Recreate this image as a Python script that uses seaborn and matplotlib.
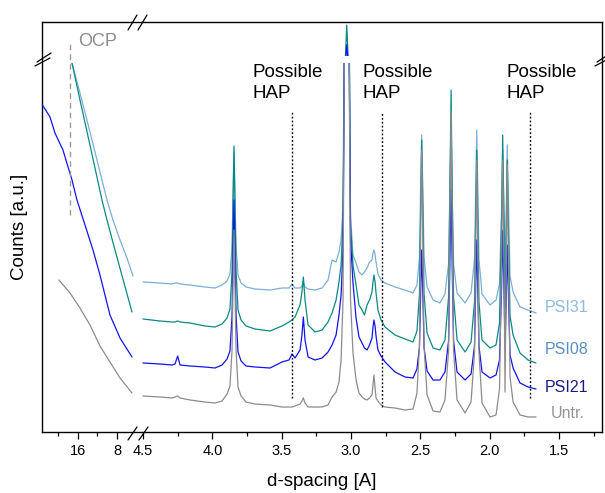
import numpy as np
import pandas as pd
import matplotlib
matplotlib.use("Agg")
import matplotlib.pyplot as plt
import seaborn as sns

# ---------------- data ----------------
samples = ["PSI31", "PSI08", "PSI21", "Untr."]
line_colors = ["#7BAED8", "#0A8A84", "#1212F2", "#8C8C8C"]
label_colors = ["#8DBAE2", "#5A8DC5", "#1A1A8C", "#959595"]

# left (large d-spacing) part: d-spacing / counts for each sample
left_d_psi31 = [17.23, 15.59, 13.54, 11.49, 10.05, 8.82, 7.38, 5.95, 4.72]
left_c_psi31 = [369, 339, 300, 260, 232, 212, 192, 174, 156]
left_d_psi08 = [17.23, 15.59, 13.54, 11.08, 10.05, 8.41, 6.56, 4.92]
left_c_psi08 = [369, 332, 287, 232, 212, 182, 149, 120]
left_d_psi21 = [23.28, 21.74, 20.72, 19.08, 17.23, 16.21, 14.56, 12.92, 11.49, 9.44, 7.38, 4.92]
left_c_psi21 = [327, 315, 299, 282, 252, 232, 207, 182, 157, 117, 94, 75]
left_d_untr = [19.90, 17.64, 15.59, 13.54, 11.49, 9.44, 7.38, 4.92]
left_c_untr = [152, 139, 124, 107, 86, 70, 54, 39]

# right (small d-spacing) part: common d grid
d_right = [4.500, 4.377, 4.291, 4.269, 4.250, 4.233, 4.161, 4.053, 3.981, 3.930,
           3.894, 3.873, 3.858, 3.851, 3.844, 3.837, 3.829, 3.815, 3.793, 3.757,
           3.693, 3.584, 3.498, 3.447, 3.426, 3.404, 3.368, 3.354, 3.344, 3.332,
           3.310, 3.260, 3.209, 3.166, 3.137, 3.108, 3.087, 3.072, 3.058, 3.047,
           3.039, 3.031, 3.023, 3.015, 3.004, 2.986, 2.964, 2.943, 2.921, 2.903,
           2.885, 2.867, 2.849, 2.842, 2.835, 2.827, 2.820, 2.806, 2.784, 2.755,
           2.683, 2.611, 2.553, 2.525, 2.507, 2.498, 2.491, 2.483, 2.474, 2.452,
           2.409, 2.359, 2.323, 2.297, 2.288, 2.279, 2.271, 2.261, 2.236, 2.178,
           2.135, 2.110, 2.101, 2.094, 2.087, 2.078, 2.056, 1.998, 1.955, 1.930,
           1.915, 1.907, 1.897, 1.890, 1.881, 1.874, 1.865, 1.854, 1.832, 1.782,
           1.724, 1.667]
c_psi31 = [150, 149, 148, 149, 149, 148, 147, 145, 144, 147,
           151, 158, 186, 237, 280, 237, 186, 157, 149, 145,
           143, 142, 144, 144, 148, 144, 144, 146, 150, 145,
           143, 142, 144, 152, 172, 170, 180, 192, 227, 380,
           650, 980, 650, 380, 217, 177, 169, 160, 157, 160,
           164, 170, 172, 179, 182, 178, 170, 158, 152, 149,
           145, 142, 139, 147, 175, 246, 297, 246, 175, 145,
           132, 129, 138, 168, 240, 312, 240, 168, 139, 129,
           139, 173, 248, 302, 248, 173, 138, 127, 132, 148,
           222, 282, 215, 165, 225, 287, 225, 156, 140, 125,
           122, 119]
c_psi08 = [113, 111, 110, 110, 111, 110, 109, 106, 105, 108,
           114, 123, 161, 229, 286, 229, 161, 122, 112, 106,
           103, 101, 106, 110, 112, 115, 127, 140, 155, 132,
           107, 100, 102, 110, 119, 132, 150, 167, 212, 450,
           1150, 1910, 1150, 450, 207, 167, 147, 127, 122, 117,
           127, 132, 140, 150, 157, 150, 139, 122, 112, 105,
           97, 93, 90, 101, 138, 227, 292, 227, 138, 99,
           84, 82, 92, 135, 238, 342, 238, 135, 92, 80,
           90, 130, 218, 282, 218, 130, 92, 84, 87, 109,
           213, 297, 205, 125, 198, 272, 198, 116, 97, 79,
           72, 69]
c_psi21 = [69, 68, 67, 68, 76, 67, 66, 65, 64, 67,
           73, 81, 116, 179, 232, 179, 116, 80, 71, 66,
           65, 64, 70, 72, 78, 74, 82, 97, 115, 92,
           75, 72, 74, 80, 87, 97, 117, 137, 182, 400,
           900, 1330, 900, 420, 192, 149, 114, 95, 89, 84,
           82, 87, 94, 105, 112, 106, 96, 82, 76, 70,
           60, 55, 54, 63, 85, 141, 182, 141, 85, 61,
           52, 52, 60, 91, 166, 242, 166, 91, 60, 52,
           58, 86, 147, 192, 147, 86, 60, 54, 57, 72,
           144, 202, 138, 85, 135, 187, 135, 77, 64, 49,
           45, 43]
c_untr = [36, 35, 34, 35, 36, 34, 32, 30, 29, 31,
          38, 46, 82, 147, 202, 147, 82, 45, 36, 30,
          28, 27, 25, 25, 25, 26, 28, 31, 34, 29,
          25, 25, 25, 27, 35, 40, 50, 72, 132, 420,
          700, 900, 700, 420, 132, 79, 52, 39, 35, 33,
          32, 34, 37, 47, 57, 44, 34, 31, 27, 25,
          24, 22, 23, 39, 86, 199, 282, 199, 86, 37,
          21, 20, 32, 81, 202, 322, 202, 81, 32, 19,
          30, 80, 191, 272, 191, 80, 29, 15, 17, 43,
          170, 272, 160, 40, 167, 267, 167, 55, 30, 17,
          15, 15]

hap_d = [3.424, 2.775, 1.71]
hap_bottom = [34, 25, 34]
hap_top = [320, 320, 320]
hap_text_d = [3.714, 2.921, 1.883]
label_d = [1.602, 1.602, 1.602, 1.558]
label_counts = [124, 82, 45, 19]
major_left = [16, 8]
minor_left = [20, 12]
major_right = [4.5, 4.0, 3.5, 3.0, 2.5, 2.0, 1.5]
minor_right = [4.25, 3.75, 3.25, 2.75, 2.25, 1.75, 1.25]

# ---------------- tables ----------------
left_parts = []
for name, dd, cc in zip(samples,
                        [left_d_psi31, left_d_psi08, left_d_psi21, left_d_untr],
                        [left_c_psi31, left_c_psi08, left_c_psi21, left_c_untr]):
    left_parts.append(pd.DataFrame({"d": dd, "counts": cc, "sample": name}))
df_left = pd.concat(left_parts, ignore_index=True)

right_parts = []
for name, cc in zip(samples, [c_psi31, c_psi08, c_psi21, c_untr]):
    right_parts.append(pd.DataFrame({"d": d_right, "counts": cc, "sample": name}))
df_right = pd.concat(right_parts, ignore_index=True)

palette = dict(zip(samples, line_colors))

# ---------------- figure ----------------
sns.set_theme(style="ticks")
plt.rcParams["font.family"] = ["Liberation Sans", "DejaVu Sans"]

W, H = 605, 493
fig = plt.figure(figsize=(W / 100, H / 100), dpi=100)


def rect(x0, y0, x1, y1):
    return [x0 / W, 1 - y1 / H, (x1 - x0) / W, (y1 - y0) / H]


frame = fig.add_axes(rect(42, 22, 602, 432))
frame.set_xlim(0, 1)
frame.set_ylim(0, 1)
frame.set_xticks([])
frame.set_yticks([])
for s in frame.spines.values():
    s.set_visible(True)
    s.set_color("black")
    s.set_linewidth(1.0)

ll = fig.add_axes(rect(42, 63, 138, 432))
lr = fig.add_axes(rect(138, 63, 602, 432))
ur = fig.add_axes(rect(138, 22, 602, 56))

common = dict(x="d", y="counts", hue="sample", hue_order=samples, palette=palette,
              sort=False, estimator=None, legend=False, linewidth=0.9)
sns.lineplot(data=df_left, ax=ll, **common)
sns.lineplot(data=df_right, ax=lr, **common)
sns.lineplot(data=df_right, ax=ur, **common)

ll.set_xlim(23.38, 3.69)
ll.set_ylim(0, 369)
lr.set_xlim(4.536, 1.191)
lr.set_ylim(0, 369)
ur.set_xlim(4.536, 1.191)
ur.set_ylim(1000, 2000)

for ax in (ll, lr, ur):
    ax.patch.set_visible(False)
    for s in ax.spines.values():
        s.set_visible(False)
    ax.set_xlabel("")
    ax.set_ylabel("")
    ax.set_yticks([])

ur.set_xticks([])

ll.set_xticks(major_left, labels=[str(v) for v in major_left])
ll.set_xticks(minor_left, minor=True)
lr.set_xticks(major_right, labels=[f"{v:.1f}" for v in major_right])
lr.set_xticks(minor_right, minor=True)
for ax in (ll, lr):
    ax.tick_params(axis="x", which="major", direction="out", length=5, width=0.9,
                   labelsize=10.5, pad=3.5, color="black", labelcolor="black", bottom=True)
    ax.tick_params(axis="x", which="minor", direction="out", length=3, width=0.9,
                   color="black", bottom=True)

# possible HAP markers
for xd, yb, yt, xt in zip(hap_d, hap_bottom, hap_top, hap_text_d):
    lr.plot([xd, xd], [yb, yt], color="black", lw=1.0, ls=(0, (1.3, 1.5)))
    lr.text(xt, 368, "Possible\nHAP", ha="left", va="top", fontsize=13.5,
            linespacing=1.3, color="black")

# series labels
for name, xd, yc, col in zip(samples, label_d, label_counts, label_colors):
    lr.text(xd, yc, name, color=col, fontsize=11.5, ha="left", va="center")

# OCP marker
ll.plot([17.64, 17.64], [217, 390], color="#9a9a9a", lw=1.0, ls=(0, (4, 3)), clip_on=False)
ll.text(16.0, 399, "OCP", color="#8c8c8c", fontsize=13, ha="left", va="top")


# axis break marks
def brk(p0, p1):
    x0 = (p0[0] - 42) / 560
    y0 = (432 - p0[1]) / 410
    x1 = (p1[0] - 42) / 560
    y1 = (432 - p1[1]) / 410
    frame.plot([x0, x1], [y0, y1], color="black", lw=0.9, transform=frame.transAxes,
               clip_on=False)


brk((128, 440), (137, 427))
brk((139, 440), (148, 427))
brk((128, 30), (137, 15))
brk((138, 30), (147, 15))
brk((35, 66), (50, 58))
brk((37, 62), (51, 53))
brk((595, 66), (610, 58))
brk((597, 62), (611, 53))

frame.set_xlabel("d-spacing [A]", fontsize=13.5, color="black")
frame.xaxis.set_label_coords(0.5, -0.101)
frame.set_ylabel("Counts [a.u.]", fontsize=13.5, color="black")
frame.yaxis.set_label_coords(-0.0257, 0.5)

fig.savefig("out.png", dpi=100)
